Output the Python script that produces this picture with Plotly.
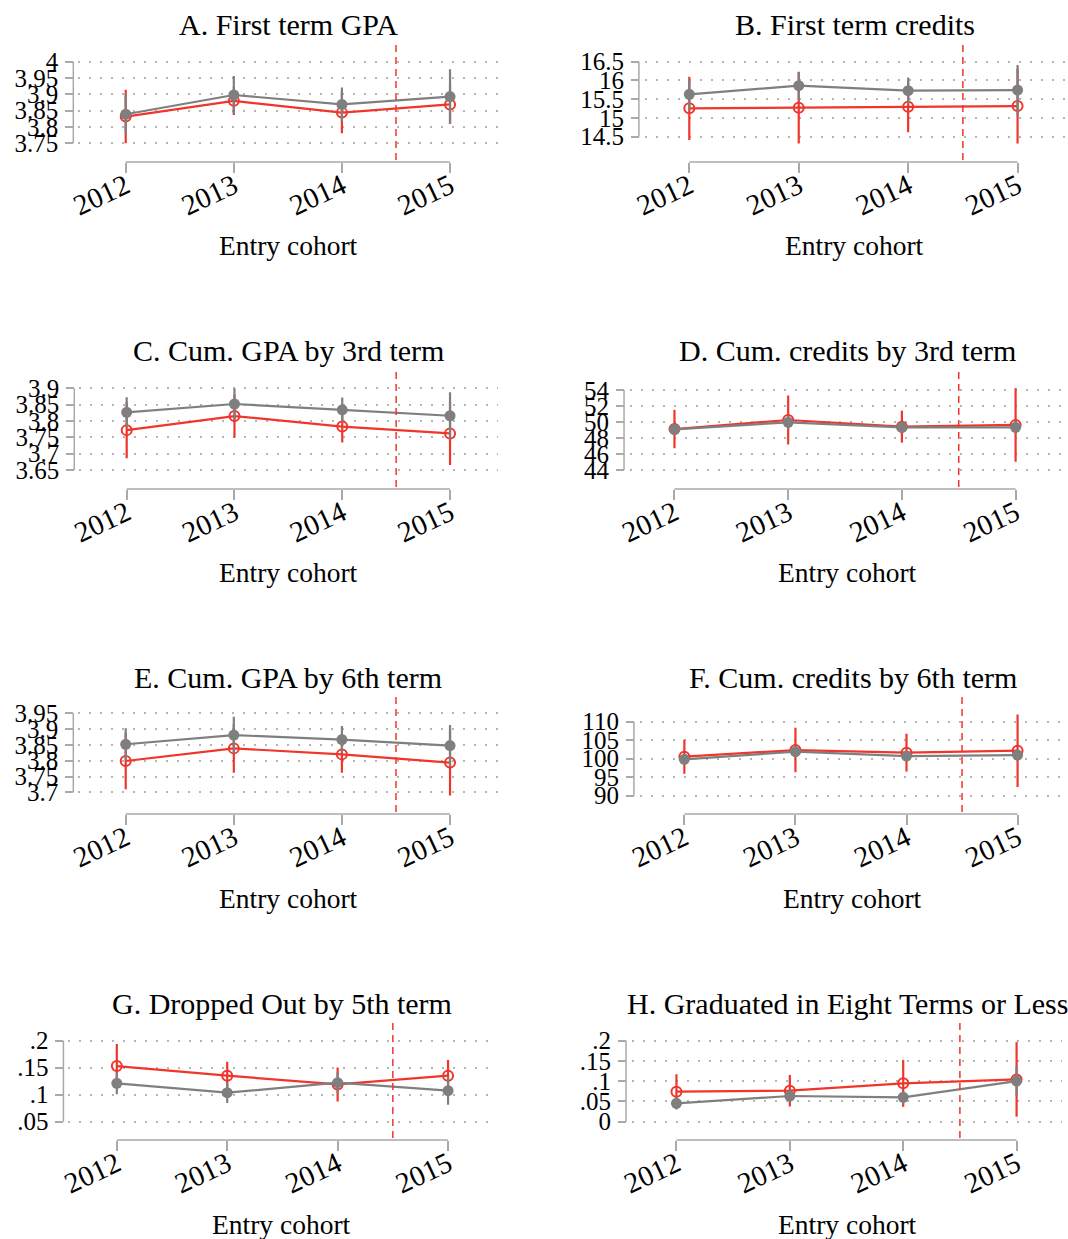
import plotly.graph_objects as go

W, H = 1068, 1239
RED = "#f0352b"
GRAY = "#7f7f7f"
AXC = "#a9a9a9"
GRIDC = "#b5b5b5"
FONT = "Liberation Serif, Times New Roman, serif"

years = [2012, 2013, 2014, 2015]
year_labels = ["2012", "2013", "2014", "2015"]
xtitle = "Entry cohort"

titles = [
    "A. First term GPA",
    "B. First term credits",
    "C. Cum. GPA by 3rd term",
    "D. Cum. credits by 3rd term",
    "E. Cum. GPA by 6th term",
    "F. Cum. credits by 6th term",
    "G. Dropped Out by 5th term",
    "H. Graduated in Eight Terms or Less",
]

# ---- data: red = hollow markers, gray = filled markers
a_red = [3.832, 3.880, 3.844, 3.869]
a_red_ci = [0.082, 0.043, 0.063, 0.060]
a_gray = [3.839, 3.898, 3.869, 3.893]
a_gray_ci = [0.061, 0.058, 0.052, 0.084]

b_red = [15.256, 15.273, 15.300, 15.318]
b_red_ci = [0.845, 0.951, 0.684, 0.996]
b_gray = [15.629, 15.860, 15.727, 15.744]
b_gray_ci = [0.40, 0.373, 0.355, 0.67]

c_red = [3.772, 3.815, 3.783, 3.762]
c_red_ci = [0.086, 0.066, 0.049, 0.097]
c_gray = [3.8265, 3.852, 3.834, 3.816]
c_gray_ci = [0.046, 0.048, 0.038, 0.072]

d_red = [49.12, 50.25, 49.42, 49.63]
d_red_ci = [2.4, 3.06, 2.0, 4.6]
d_gray = [49.08, 49.96, 49.33, 49.33]
d_gray_ci = [0.7, 0.8, 0.6, 0.8]

e_red = [3.799, 3.839, 3.820, 3.794]
e_red_ci = [0.089, 0.077, 0.058, 0.104]
e_gray = [3.852, 3.881, 3.867, 3.848]
e_gray_ci = [0.051, 0.058, 0.043, 0.065]

f_red = [100.54, 102.34, 101.62, 102.16]
f_red_ci = [4.6, 6.0, 5.1, 9.8]
f_gray = [99.82, 101.89, 100.72, 100.99]
f_gray_ci = [1.2, 1.4, 1.2, 1.5]

g_red = [0.1531, 0.1352, 0.1191, 0.1352]
g_red_ci = [0.041, 0.026, 0.0315, 0.029]
g_gray = [0.121, 0.1037, 0.1222, 0.1074]
g_gray_ci = [0.020, 0.019, 0.020, 0.026]

h_red = [0.0741, 0.0765, 0.0947, 0.1045]
h_red_ci = [0.043, 0.039, 0.058, 0.092]
h_gray = [0.0453, 0.0634, 0.0601, 0.1004]
h_gray_ci = [0.015, 0.015, 0.015, 0.037]

a_ticks = [3.75, 3.8, 3.85, 3.9, 3.95, 4]
a_tick_text = ["3.75", "3.8", "3.85", "3.9", "3.95", "4"]
b_ticks = [14.5, 15, 15.5, 16, 16.5]
b_tick_text = ["14.5", "15", "15.5", "16", "16.5"]
c_ticks = [3.65, 3.7, 3.75, 3.8, 3.85, 3.9]
c_tick_text = ["3.65", "3.7", "3.75", "3.8", "3.85", "3.9"]
d_ticks = [44, 46, 48, 50, 52, 54]
d_tick_text = ["44", "46", "48", "50", "52", "54"]
e_ticks = [3.7, 3.75, 3.8, 3.85, 3.9, 3.95]
e_tick_text = ["3.7", "3.75", "3.8", "3.85", "3.9", "3.95"]
f_ticks = [90, 95, 100, 105, 110]
f_tick_text = ["90", "95", "100", "105", "110"]
g_ticks = [0.05, 0.1, 0.15, 0.2]
g_tick_text = [".05", ".1", ".15", ".2"]
h_ticks = [0, 0.05, 0.1, 0.15, 0.2]
h_tick_text = ["0", ".05", ".1", ".15", ".2"]

cutoff = 2014.5

series = [
    (a_red, a_red_ci, a_gray, a_gray_ci, a_ticks, a_tick_text),
    (b_red, b_red_ci, b_gray, b_gray_ci, b_ticks, b_tick_text),
    (c_red, c_red_ci, c_gray, c_gray_ci, c_ticks, c_tick_text),
    (d_red, d_red_ci, d_gray, d_gray_ci, d_ticks, d_tick_text),
    (e_red, e_red_ci, e_gray, e_gray_ci, e_ticks, e_tick_text),
    (f_red, f_red_ci, f_gray, f_gray_ci, f_ticks, f_tick_text),
    (g_red, g_red_ci, g_gray, g_gray_ci, g_ticks, g_tick_text),
    (h_red, h_red_ci, h_gray, h_gray_ci, h_ticks, h_tick_text),
]

# ---- layout geometry (pixels)
# y-axis line x, x pixel of first/last year, plot left/right
geo_x = [
    (62, 115, 443, 67, 492),
    (634, 685, 1017, 640, 1065),
    (63, 116, 443, 68, 492),
    (619, 670, 1015, 625, 1064),
    (62, 115, 443, 67, 492),
    (629, 680, 1017, 635, 1066),
    (52, 106, 441, 57, 489),
    (621, 672, 1016, 627, 1062),
]
# plot top/bottom, pixel of lowest tick, pixel of highest tick
rows = [(44, 160), (370, 487), (697, 812), (1023, 1138)]
tick_px = [
    (143.3, 61.7), (136.7, 61.7),
    (470, 388.3), (470, 390),
    (792.3, 713.3), (795.7, 721.7),
    (1121.7, 1040.7), (1121.7, 1040.7),
]

def py(p):
    return 1 - p / H

def px(p):
    return p / W

fig = go.Figure()
layout = dict(
    width=W, height=H, margin=dict(l=0, r=0, t=0, b=0),
    paper_bgcolor="white", plot_bgcolor="white",
    showlegend=False, font=dict(family=FONT, color="black"),
)
shapes, annotations = [], []

for i, (red, red_ci, gray, gray_ci, tv, tt) in enumerate(series):
    n = i + 1
    sfx = "" if n == 1 else str(n)
    xa, ya = "x" + sfx, "y" + sfx
    yax_px, x12, x15, left, right = geo_x[i]
    top, bottom = rows[i // 2]
    lo_px, hi_px = tick_px[i]
    lo_v, hi_v = tv[0], tv[-1]

    ppy = (x15 - x12) / (years[-1] - years[0])
    xr = [years[0] + (left - x12) / ppy, years[-1] + (right - x15) / ppy]
    vpp = (hi_v - lo_v) / (lo_px - hi_px)
    yr = [lo_v - (bottom - lo_px) * vpp, hi_v + (hi_px - top) * vpp]

    fig.add_trace(go.Scatter(
        x=years, y=red, xaxis=xa, yaxis=ya, mode="lines+markers",
        line=dict(color=RED, width=2.2),
        marker=dict(symbol="circle-open", size=10, color=RED, line=dict(width=2, color=RED)),
        error_y=dict(type="data", array=red_ci, color=RED, thickness=2.2, width=0),
        hoverinfo="skip"))
    fig.add_trace(go.Scatter(
        x=years, y=gray, xaxis=xa, yaxis=ya, mode="lines+markers",
        line=dict(color=GRAY, width=2.2),
        marker=dict(symbol="circle", size=11, color=GRAY),
        error_y=dict(type="data", array=gray_ci, color=GRAY, thickness=2.2, width=0),
        hoverinfo="skip"))

    axis_y = bottom + 2
    layout["xaxis" + sfx] = dict(
        domain=[px(left), px(right)], range=xr, anchor="free", position=py(axis_y),
        tickvals=years, ticktext=year_labels, tickangle=-25,
        ticks="outside", ticklen=10, tickwidth=1.5, tickcolor=AXC,
        ticklabelstandoff=-15,
        showline=False, showgrid=False, zeroline=False,
        tickfont=dict(family=FONT, size=29, color="black"), fixedrange=True)
    layout["yaxis" + sfx] = dict(
        domain=[py(bottom), py(top)], range=yr, anchor="free", position=px(yax_px),
        tickvals=tv, ticktext=tt,
        ticks="outside", ticklen=8, tickwidth=1.5, tickcolor=AXC,
        ticklabelstandoff=2,
        showline=False, showgrid=True, gridcolor=GRIDC, gridwidth=1.5, griddash="2px,9px",
        zeroline=False, tickfont=dict(family=FONT, size=25, color="black"), fixedrange=True)

    shapes.append(dict(type="line", xref="paper", yref=ya, x0=px(yax_px), x1=px(yax_px),
                       y0=lo_v, y1=hi_v, line=dict(color=AXC, width=1.5)))
    shapes.append(dict(type="line", xref=xa, yref="paper", x0=years[0], x1=years[-1],
                       y0=py(axis_y), y1=py(axis_y), line=dict(color=AXC, width=1.5)))
    shapes.append(dict(type="line", xref=xa, yref=ya + " domain", x0=cutoff, x1=cutoff,
                       y0=0, y1=1, line=dict(color=RED, width=1.5, dash="7px,5px")))

    cx = px((left + right) / 2)
    annotations.append(dict(text=titles[i], x=cx, y=py(top - 11 - 8.5), xref="paper", yref="paper",
                            xanchor="center", yanchor="middle", showarrow=False,
                            font=dict(family=FONT, size=30, color="black")))
    annotations.append(dict(text=xtitle, x=cx, y=py(bottom + 94 - 8), xref="paper", yref="paper",
                            xanchor="center", yanchor="middle", showarrow=False,
                            font=dict(family=FONT, size=27.5, color="black")))

layout["shapes"] = shapes
layout["annotations"] = annotations
fig.update_layout(**layout)
fig.write_html("out.html", config={"displayModeBar": False},
               post_script="document.body.style.margin='0px';")
